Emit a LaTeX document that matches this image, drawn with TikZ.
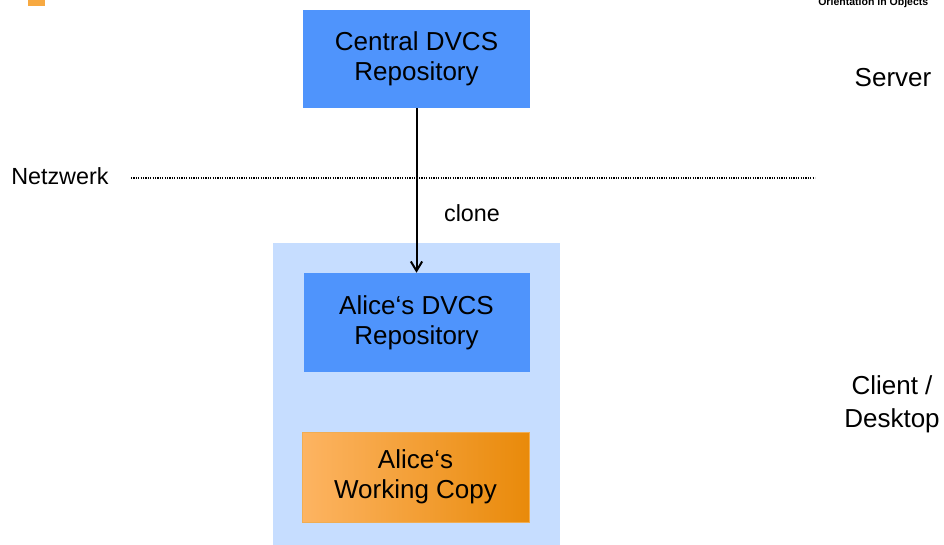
\documentclass[tikz,border=0pt]{standalone}
\usepackage{fontspec}
\setmainfont{Liberation Sans}
\usetikzlibrary{arrows.meta}
\definecolor{boxblue}{RGB}{79,148,252}
\definecolor{lightblue}{RGB}{198,221,255}
\definecolor{orangeL}{RGB}{253,180,98}
\definecolor{orangeR}{RGB}{233,138,10}
\definecolor{logoorange}{RGB}{247,169,65}
\tikzset{
  repo/.style={fill=boxblue, draw=none, inner sep=0pt, align=center,
    font=\fontsize{19.5pt}{22.5pt}\selectfont},
  wcopy/.style={left color=orangeL, right color=orangeR, draw=orangeR!70!white, line width=0.4pt,
    inner sep=0pt, align=center, font=\fontsize{19.5pt}{22.5pt}\selectfont},
  lbl/.style={inner sep=0pt, align=center, font=\fontsize{19.5pt}{24.5pt}\selectfont},
  smalllbl/.style={inner sep=0pt, font=\fontsize{17.5pt}{21pt}\selectfont},
  conn/.style={line width=1.5pt, -{Straight Barb[length=7pt,width=8.5pt,line width=1.5pt]}},
  netline/.style={line width=1.1pt, dash pattern=on 0.9pt off 0.9pt}
}
\begin{document}
\begin{tikzpicture}[x=0.75pt,y=-0.75pt]
\useasboundingbox (0,0) rectangle (944,544);
\clip (0,0) rectangle (944,544);
% logo fragments
\fill[logoorange] (28,-2) rectangle (45,6);
\node[anchor=base west, inner sep=0pt, font=\bfseries\fontsize{7.9pt}{9pt}\selectfont] (logo) at (818,5.5) {Orientation in Objects};
% client area
\fill[lightblue] (273,243) rectangle (560,560);
% nodes
\node[repo, minimum width=170.25pt, minimum height=73.5pt] (central) at (416.5,59) {Central DVCS\\Repository};
\node[repo, minimum width=169.5pt, minimum height=74.25pt] (alice) at (416.5,322.5) {Alice‘s DVCS\\Repository};
\node[wcopy, minimum width=170.25pt, minimum height=67.5pt] (wc) at (415.5,477) {Alice‘s\\Working Copy};
\node[lbl] (server) at (893,78) {Server};
\node[lbl] (client) at (892,404) {Client /\\Desktop};
\node[smalllbl, anchor=west] (netz) at (11,176) {Netzwerk};
\coordinate (nl) at (131,178);
\coordinate (nr) at (815,178);
\draw[netline] (nl) -- (nr);
\node[smalllbl] (clone) at (472,213) {clone};
\draw[conn] (central.south) -- (alice.north);
\end{tikzpicture}
\end{document}
